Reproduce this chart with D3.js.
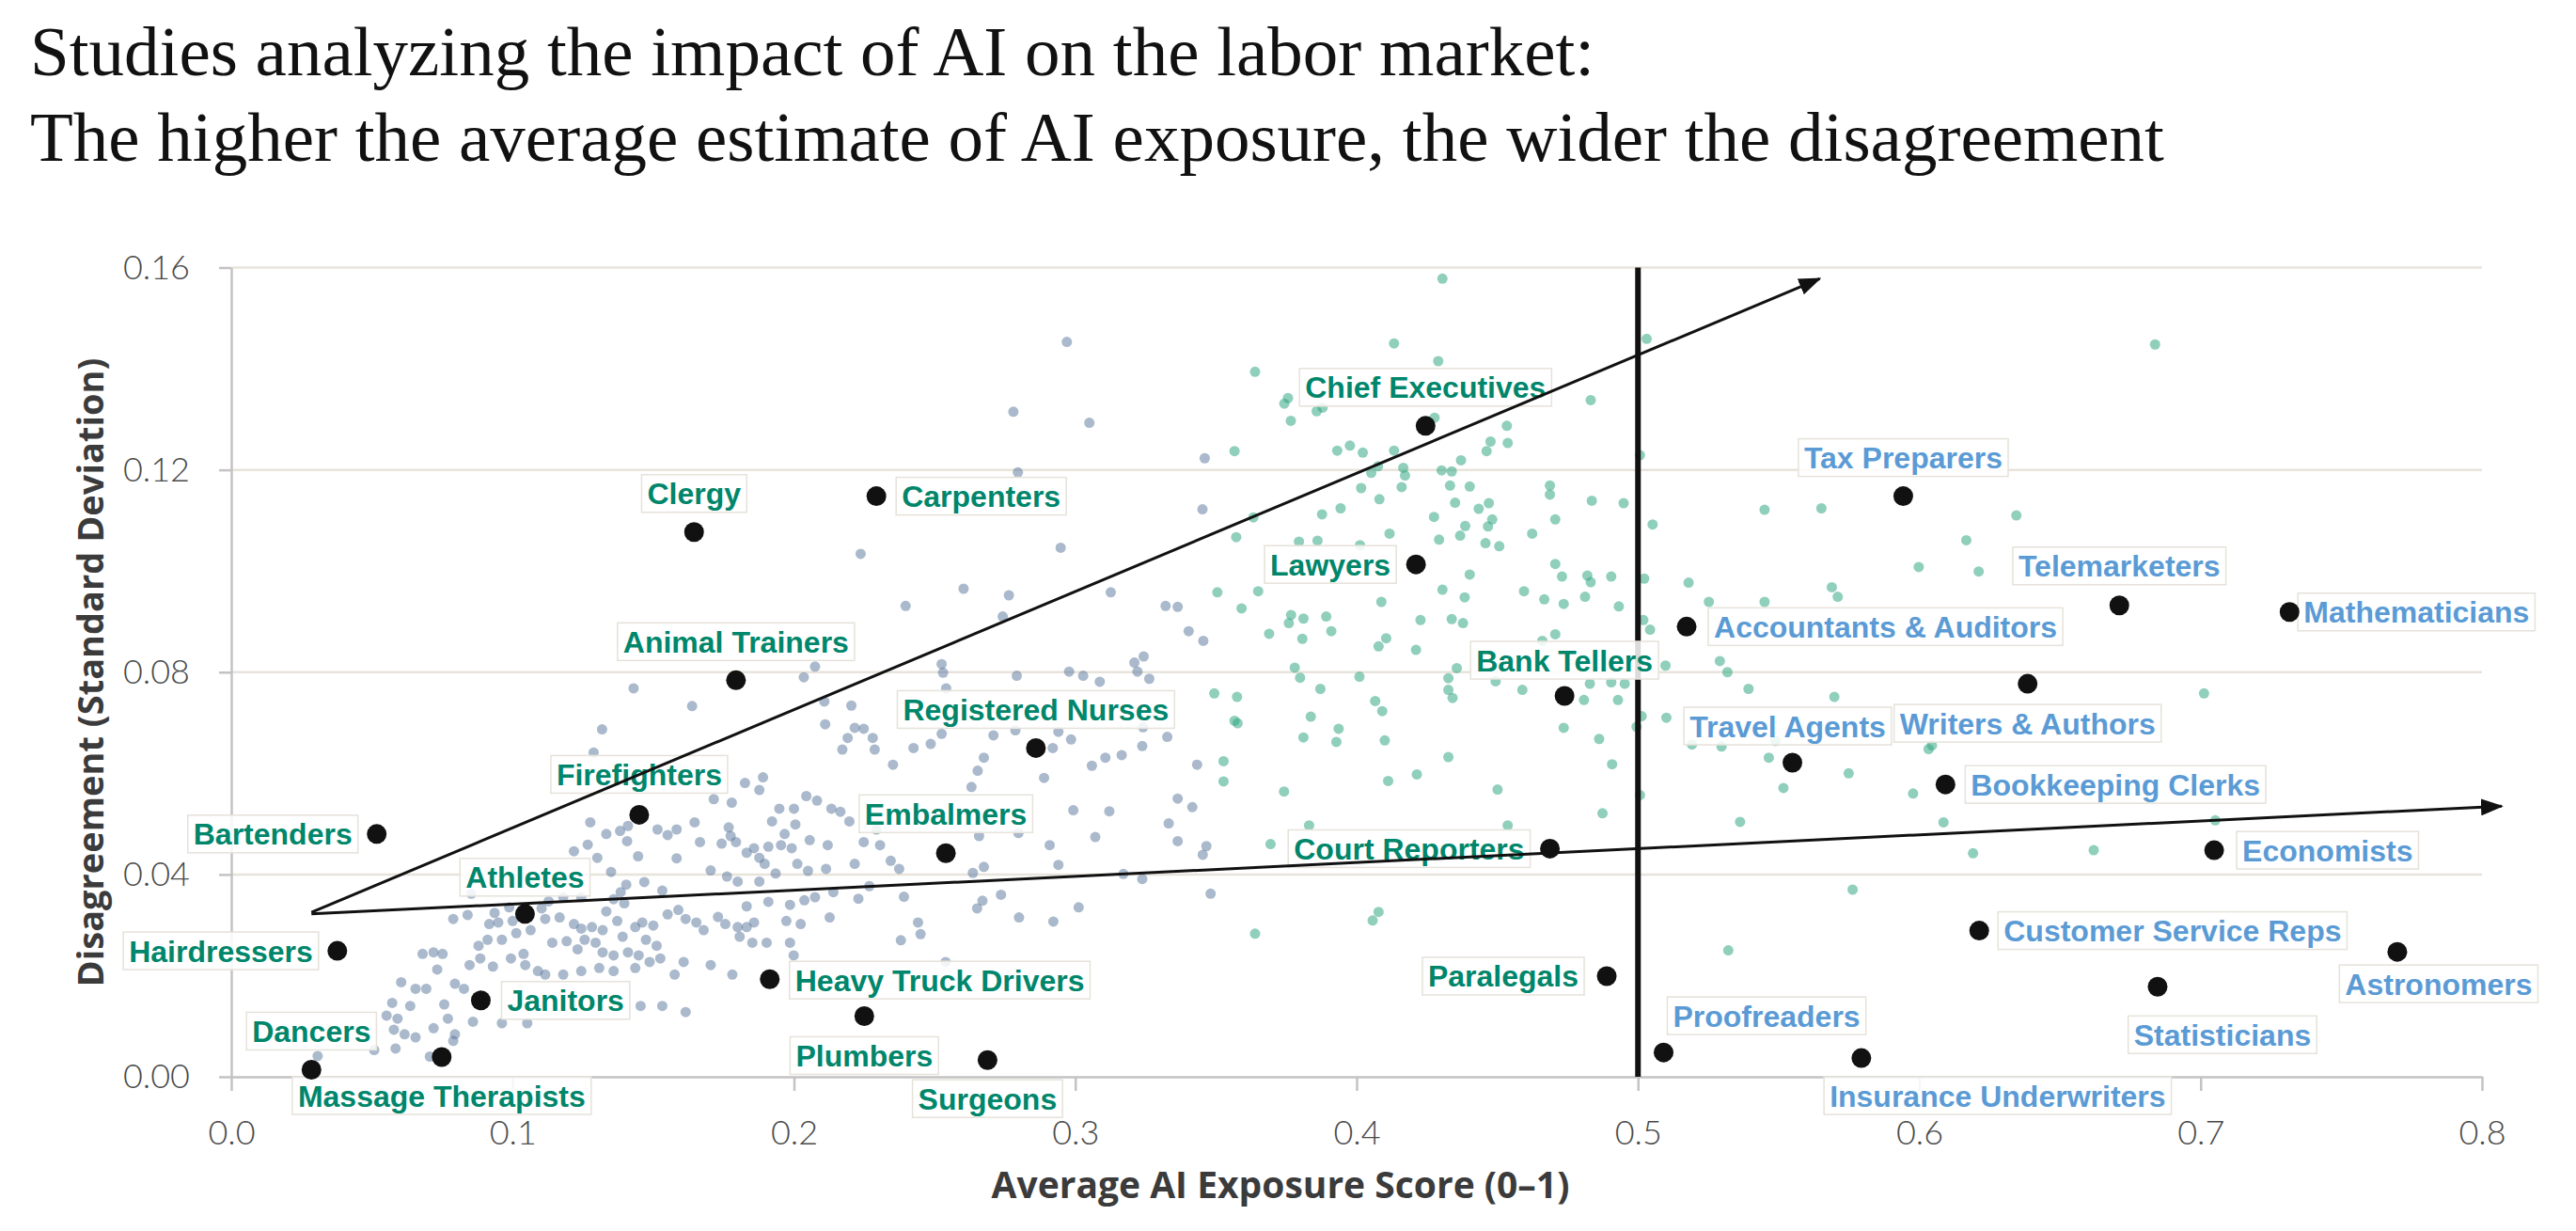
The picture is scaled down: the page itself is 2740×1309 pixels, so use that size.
<!DOCTYPE html>
<html>
<head>
<meta charset="utf-8">
<script src="https://cdn.jsdelivr.net/npm/d3@7"></script>
<style>
  html, body { margin: 0; padding: 0; background: #fff; }
  svg { display: block; }
</style>
</head>
<body>
<div id="chart"></div>
<script>
// ---- data ----
var titleLines = [
  "Studies analyzing the impact of AI on the labor market:",
  "The higher the average estimate of AI exposure, the wider the disagreement"
];
var xTitle = "Average AI Exposure Score (0\u20131)";
var yTitle = "Disagreement (Standard Deviation)";
var xTicks = [0, 0.1, 0.2, 0.3, 0.4, 0.5, 0.6, 0.7, 0.8];
var yTicks = [0, 0.04, 0.08, 0.12, 0.16];
var exposureCutoff = 0.5;

// occupations scored low (grey-blue cloud)
var lowExposureDots = [
  [0.143,0.0768],[0.1638,0.0733],[0.2035,0.079],[0.2075,0.0811],[0.1318,0.0687],[0.2108,0.0742],[0.2204,0.0734],[0.2111,0.0697],
  [0.2191,0.067],[0.2216,0.069],[0.2248,0.0688],[0.228,0.067],[0.2172,0.0647],[0.2287,0.0647],[0.1288,0.0641],
  [0.1826,0.0581],[0.189,0.0592],[0.1877,0.0567],[0.1715,0.0549],[0.1779,0.0542],[0.2044,0.0555],[0.2082,0.0546],[0.1948,0.053],
  [0.2,0.053],[0.2133,0.053],[0.2165,0.0524],[0.1922,0.0505],[0.2005,0.0499],[0.2197,0.0505],[0.2293,0.0489],[0.1276,0.0503],
  [0.1333,0.048],[0.1382,0.0486],[0.141,0.0496],[0.1515,0.0489],[0.1551,0.0478],[0.1583,0.0489],[0.1647,0.0503],[0.1768,0.0493],
  [0.1775,0.0476],[0.1794,0.0464],[0.1743,0.0461],[0.1666,0.0464],[0.1267,0.0459],[0.1407,0.0466],[0.1967,0.048],[0.1954,0.0458],
  [0.1909,0.0455],[0.1858,0.0452],[0.1832,0.0443],[0.1877,0.0433],[0.1896,0.0421],[0.1992,0.0452],[0.2056,0.0468],[0.212,0.0458],
  [0.2248,0.0464],[0.2306,0.0458],[0.1218,0.0446],[0.1301,0.0433],[0.135,0.0405],[0.1446,0.0436],[0.1583,0.0432],[0.2012,0.0421],
  [0.205,0.0407],[0.2114,0.0411],[0.2216,0.0421],[0.1704,0.0408],[0.1762,0.0396],[0.18,0.0386],[0.1877,0.0386],[0.1935,0.0402],
  [0.2344,0.0427],
  [0.1404,0.038],[0.1468,0.0385],[0.1384,0.0365],[0.1359,0.0351],[0.1397,0.0343],[0.1532,0.0368],[0.1333,0.0327],[0.1244,0.0355],
  [0.118,0.0355],[0.1128,0.0347],[0.1103,0.0333],[0.0988,0.0335],[0.0936,0.0324],[0.0917,0.0302],[0.0853,0.0362],[0.084,0.032],
  [0.0789,0.0312],[0.0949,0.0305],[0.1,0.0308],[0.1116,0.0312],[0.1167,0.0315],[0.1218,0.0302],[0.1244,0.0293],[0.1282,0.0296],
  [0.132,0.029],[0.1372,0.0308],[0.1391,0.0277],[0.1436,0.0296],[0.1461,0.0305],[0.15,0.0299],[0.1551,0.0321],[0.1589,0.033],
  [0.1615,0.0312],[0.1653,0.0305],[0.1679,0.029],[0.173,0.0316],[0.1756,0.0302],[0.18,0.0296],[0.1832,0.0296],[0.1858,0.0305],
  [0.1832,0.0337],[0.1909,0.0346],[0.1986,0.034],[0.2037,0.0349],[0.2075,0.0355],[0.214,0.0365],[0.2229,0.0352],[0.2268,0.0377],
  [0.1973,0.0308],[0.2024,0.0302],[0.2127,0.0315],
  [0.1064,0.029],[0.1013,0.0284],[0.0962,0.0271],[0.0911,0.0271],[0.0879,0.0259],[0.0885,0.0234],[0.0847,0.0221],[0.093,0.0218],
  [0.0994,0.0234],[0.1039,0.0243],[0.1045,0.0221],[0.109,0.0209],[0.1141,0.0265],[0.1192,0.0268],[0.1231,0.0252],[0.1256,0.0271],
  [0.1295,0.0265],[0.132,0.0246],[0.1359,0.024],[0.141,0.0246],[0.1448,0.024],[0.1474,0.0271],[0.1512,0.0259],[0.1487,0.0227],
  [0.1525,0.0234],[0.1576,0.0202],[0.1608,0.0227],[0.1704,0.0221],[0.1781,0.0202],[0.1807,0.0277],[0.1852,0.0265],[0.1903,0.0265],
  [0.1986,0.0265],[0.1999,0.024],[0.1116,0.0202],[0.118,0.0202],[0.1244,0.0209],[0.1308,0.0215],[0.1359,0.0209],[0.1436,0.0215],
  [0.068,0.0243],[0.0719,0.0246],[0.0751,0.0243],[0.0732,0.0212],[0.0604,0.0187],[0.0655,0.0174],[0.0693,0.0174],[0.0572,0.0146],
  [0.0636,0.014],[0.0757,0.0143],[0.0591,0.0115],[0.0552,0.0121],[0.0578,0.0093],[0.0616,0.0084],[0.0655,0.0078],[0.0719,0.0096],
  [0.077,0.0115],[0.0795,0.0084],[0.0859,0.0109],[0.0962,0.0106],[0.1052,0.0106],[0.0795,0.0184],[0.0827,0.0174],[0.0584,0.0056],
  [0.0508,0.0053],[0.0706,0.004],[0.0789,0.0071],[0.1455,0.014],[0.1532,0.014],[0.1615,0.0128],[0.0307,0.0041],
  [0.3452,0.1122],[0.2237,0.1034],[0.2948,0.1046],[0.2603,0.0965],[0.2397,0.0931],[0.2764,0.0952],[0.3126,0.0958],[0.3321,0.0931],
  [0.3364,0.0929],[0.2742,0.091],[0.3403,0.0881],[0.3455,0.0862],
  [0.2525,0.0816],[0.253,0.0799],[0.2792,0.0793],[0.2978,0.0801],[0.3028,0.0793],[0.3087,0.0781],[0.321,0.0819],[0.3243,0.0831],
  [0.3221,0.0801],[0.3263,0.0787],[0.2541,0.0768],
  [0.2486,0.0658],[0.2525,0.0678],[0.2425,0.065],[0.2709,0.0675],[0.2787,0.0685],[0.294,0.0682],[0.2985,0.0667],[0.292,0.065],
  [0.3238,0.0654],[0.3327,0.0672],[0.3241,0.0691],
  [0.2352,0.0617],[0.2675,0.0631],[0.2653,0.0605],[0.2631,0.0573],[0.2889,0.0591],[0.3059,0.0615],[0.3107,0.0631],[0.3165,0.0636],
  [0.3433,0.0617],
  [0.2993,0.0527],[0.3121,0.0525],[0.3364,0.055],[0.3416,0.0533],[0.3332,0.0501],[0.3071,0.0474],[0.2909,0.0458],[0.3364,0.0466],
  [0.3466,0.0456],[0.3453,0.0439],[0.2658,0.0476],[0.2798,0.0482],
  [0.294,0.0419],[0.2675,0.0415],[0.2636,0.0403],[0.2374,0.0411],[0.3171,0.0401],[0.3238,0.0391],
  [0.2391,0.0356],[0.267,0.0348],[0.2651,0.0333],[0.2736,0.036],[0.3012,0.0335],[0.3481,0.0362],[0.28,0.0315],[0.2922,0.0307],
  [0.2441,0.0305],[0.245,0.0282],[0.238,0.027],[0.2539,0.0227],
  [0.297,0.1453],[0.278,0.1315],[0.305,0.1293],[0.346,0.1223],[0.2796,0.1195]
];

// occupations scored high (green cloud)
var highExposureDots = [
  [0.3572,0.1067],[0.3633,0.1106],[0.3505,0.0958],[0.3591,0.0926],[0.365,0.096],[0.3767,0.0913],[0.3759,0.0897],[0.3689,0.0876],
  [0.378,0.0809],[0.3494,0.0758],[0.3575,0.0751],[0.3566,0.0704],[0.3577,0.0699],[0.3527,0.0624],[0.3527,0.0584],[0.3742,0.0564],
  [0.3694,0.046],[0.3639,0.0283],[0.3795,0.1058],
  [0.3639,0.1394],[0.3756,0.1342],[0.3743,0.1331],[0.3766,0.1297],[0.3566,0.1237],
  [0.4305,0.1578],[0.4133,0.145],[0.429,0.1415],[0.5031,0.1459],[0.4832,0.1338],[0.3858,0.1316],[0.3879,0.1323],[0.4277,0.1303],
  [0.4534,0.1287],[0.4476,0.1256],[0.4537,0.1253],[0.4462,0.1237],[0.3931,0.1238],[0.3976,0.1248],[0.4022,0.1234],[0.4133,0.1238],
  [0.5007,0.1229],[0.4371,0.1219],[0.4076,0.1207],[0.4052,0.1194],[0.4166,0.1204],[0.4172,0.1189],[0.4302,0.1199],[0.4338,0.1197],
  [0.4016,0.1164],[0.416,0.1166],[0.4332,0.1169],[0.4402,0.1167],[0.4687,0.1169],[0.4687,0.1151],[0.4081,0.1142],[0.4836,0.1139],
  [0.4949,0.1134],[0.435,0.1135],[0.4434,0.1123],[0.447,0.1134],[0.3943,0.1124],[0.3877,0.1112],[0.4275,0.1107],[0.4482,0.1102],
  [0.4467,0.1088],[0.4386,0.1089],[0.4706,0.1102],[0.5052,0.1092],[0.545,0.1121],[0.5652,0.1124],[0.4624,0.1074],[0.4117,0.1074],
  [0.4368,0.107],[0.4293,0.1062],[0.4458,0.1055],[0.4507,0.1049],[0.3861,0.106],[0.4012,0.1051],[0.4706,0.1014],[0.4402,0.0993],
  [0.473,0.0989],[0.482,0.0991],[0.4832,0.0978],[0.4905,0.0989],[0.5022,0.0985],[0.518,0.0977],[0.4305,0.0963],[0.4595,0.096],
  [0.4384,0.0948],[0.4812,0.0949],[0.4667,0.0944],[0.4736,0.0935],[0.4932,0.093],[0.5252,0.0939],[0.545,0.0939],[0.4088,0.0939],
  [0.3892,0.091],[0.3811,0.0906],[0.391,0.0881],[0.3807,0.0866],[0.4227,0.0903],[0.4338,0.0905],[0.4378,0.0897],[0.5019,0.0903],
  [0.5043,0.0884],[0.4706,0.0875],[0.466,0.0862],[0.4105,0.0867],[0.4078,0.0851],[0.4211,0.0844],[0.5291,0.0822],[0.5318,0.08],
  [0.5098,0.0813],[0.4356,0.0808],[0.401,0.0791],
  [0.3799,0.0789],[0.3871,0.0767],[0.4326,0.0788],[0.4326,0.0765],[0.4341,0.0749],[0.4494,0.0782],[0.4589,0.0765],[0.4829,0.0777],
  [0.4905,0.078],[0.4953,0.0777],[0.4808,0.0745],[0.4929,0.0745],[0.4066,0.0743],[0.4091,0.0723],[0.3837,0.0712],[0.3811,0.0671],
  [0.3936,0.0688],[0.3928,0.0662],[0.41,0.0665],[0.4736,0.069],[0.4862,0.0668],[0.4326,0.0632],[0.4214,0.0598],[0.4112,0.0585],
  [0.4908,0.0618],[0.4501,0.0568],[0.4874,0.0521],[0.5007,0.0557],[0.5013,0.0713],[0.4995,0.0692],[0.5101,0.071],[0.5192,0.0657],
  [0.5297,0.0653],[0.5489,0.0664],[0.5393,0.0767],[0.5465,0.0631],[0.5517,0.0571],[0.5363,0.0504],[0.3831,0.0497],[0.4537,0.0497],
  [0.4078,0.0326],[0.4057,0.0309],[0.5321,0.025],
  [0.6838,0.1448],[0.6345,0.111],[0.6167,0.1061],[0.5998,0.1008],[0.6211,0.0999],[0.5689,0.0968],[0.571,0.0949],[0.5698,0.0751],
  [0.7012,0.0758],[0.6033,0.0648],[0.6045,0.0655],[0.5749,0.06],[0.5978,0.056],[0.6086,0.0503],[0.7052,0.0507],[0.6191,0.0442],
  [0.662,0.0448],[0.5763,0.037]
];

// highlighted occupations
var occupationNames = [
  "Bartenders", "Firefighters", "Athletes", "Hairdressers", "Janitors", "Heavy Truck Drivers", "Plumbers",
  "Dancers", "Massage Therapists", "Surgeons", "Clergy", "Carpenters", "Animal Trainers", "Registered Nurses",
  "Embalmers", "Chief Executives", "Lawyers", "Bank Tellers", "Court Reporters", "Paralegals", "Proofreaders",
  "Accountants & Auditors", "Travel Agents", "Tax Preparers", "Telemarketers", "Mathematicians",
  "Writers & Authors", "Bookkeeping Clerks", "Economists", "Customer Service Reps", "Astronomers",
  "Statisticians", "Insurance Underwriters"
];
var occupationExposure = [
  0.0517, 0.145, 0.1044, 0.0377, 0.0887, 0.1914, 0.225,
  0.0285, 0.0748, 0.2688, 0.1645, 0.2293, 0.1794, 0.286,
  0.254, 0.4245, 0.4211, 0.4739, 0.4687, 0.4889, 0.5091,
  0.5173, 0.5549, 0.5943, 0.6711, 0.7316,
  0.6385, 0.6093, 0.7048, 0.6213, 0.7699,
  0.6847, 0.5794
];
var occupationDisagreement = [
  0.048, 0.0518, 0.0322, 0.0249, 0.0151, 0.0193, 0.012,
  0.0014, 0.0039, 0.0033, 0.1077, 0.1148, 0.0784, 0.065,
  0.0442, 0.1287, 0.1013, 0.0753, 0.0451, 0.0199, 0.0048,
  0.089, 0.0621, 0.1148, 0.0932, 0.0919,
  0.0777, 0.0578, 0.0448, 0.0289, 0.0247,
  0.0178, 0.0037
];

// two guide arrows, [start, end] in data units
var trendArrows = [
  [[0.0285, 0.0325], [0.5646, 0.1578]],
  [[0.0285, 0.0322], [0.807, 0.0535]]
];

// ---- layout ----
var W = 2740, H = 1309;
var x = d3.scaleLinear().domain([0, 0.8]).range([246, 2640]);
var y = d3.scaleLinear().domain([0, 0.16]).range([1145, 284.5]);

// label placement: [text-anchor, dx, dy] in px from the dot
var labelLayout = {
  "Bartenders": ["end", -20, 0], "Hairdressers": ["end", -20, 0], "Dancers": ["middle", 0, -41],
  "Massage Therapists": ["middle", 0, 41], "Athletes": ["middle", 0, -39], "Firefighters": ["middle", 0, -43],
  "Janitors": ["start", 22, 0], "Heavy Truck Drivers": ["start", 21, 1], "Plumbers": ["middle", 0, 42],
  "Surgeons": ["middle", 0, 41], "Embalmers": ["middle", 0, -42], "Registered Nurses": ["middle", 0, -41],
  "Carpenters": ["start", 21, 0], "Clergy": ["middle", 0, -41], "Animal Trainers": ["middle", 0, -41],
  "Chief Executives": ["middle", 0, -41], "Lawyers": ["end", -21, 0], "Bank Tellers": ["middle", 0, -38],
  "Accountants & Auditors": ["start", 23, 0], "Court Reporters": ["end", -21, 0], "Paralegals": ["end", -24, 0],
  "Proofreaders": ["start", 4, -39], "Travel Agents": ["middle", -5, -39], "Tax Preparers": ["middle", 0, -41],
  "Telemarketers": ["middle", 0, -42], "Mathematicians": ["start", 9, 0], "Writers & Authors": ["middle", 0, 42],
  "Bookkeeping Clerks": ["start", 21, 0], "Economists": ["start", 24, 0], "Customer Service Reps": ["start", 20, 0],
  "Astronomers": ["middle", 44, 34], "Statisticians": ["middle", 69, 51], "Insurance Underwriters": ["middle", 145, 40]
};

var svg = d3.select("#chart").append("svg")
  .attr("width", W)
  .attr("height", H)
  .style("background", "#fff");

// title
svg.append("g").selectAll("text")
  .data(titleLines)
  .join("text")
  .attr("x", 32)
  .attr("y", function (d, i) { return 80 + i * 91; })
  .style("font-family", "'Liberation Serif', 'DejaVu Serif', serif")
  .style("font-size", "75px")
  .style("fill", "#111")
  .text(function (d) { return d; });

// gridlines
svg.append("g").selectAll("line")
  .data(yTicks.filter(function (d) { return d > 0; }))
  .join("line")
  .attr("x1", x(0)).attr("x2", x(0.8))
  .attr("y1", function (d) { return y(d); }).attr("y2", function (d) { return y(d); })
  .style("stroke", "#e8e3db")
  .style("stroke-width", 2.5);

// axes
var yAxis = svg.append("g")
  .attr("transform", "translate(" + x(0) + ",0)")
  .call(d3.axisLeft(y).tickValues(yTicks).tickFormat(d3.format(".2f")).tickSize(13).tickSizeOuter(0).tickPadding(31));
var xAxis = svg.append("g")
  .attr("transform", "translate(0," + y(0) + ")")
  .call(d3.axisBottom(x).tickValues(xTicks).tickFormat(d3.format(".1f")).tickSize(15).tickSizeOuter(0).tickPadding(31));

[yAxis, xAxis].forEach(function (ax) {
  ax.selectAll("path, line").style("stroke", "#c3c3c3").style("stroke-width", 2.5);
  ax.selectAll("text")
    .style("font-family", "Lato, 'Open Sans', sans-serif")
    .style("font-weight", 300)
    .style("font-size", "36px")
    .style("fill", "#4a4a4a");
});

// axis titles
svg.append("text")
  .attr("transform", "translate(97,715) rotate(-90)")
  .attr("text-anchor", "middle")
  .attr("dy", "0.35em")
  .style("font-family", "'Open Sans', sans-serif")
  .style("font-weight", 700)
  .style("font-size", "38px")
  .style("fill", "#3b3b3b")
  .text(yTitle);

svg.append("text")
  .attr("x", 1362)
  .attr("y", 1260)
  .attr("text-anchor", "middle")
  .attr("dy", "0.35em")
  .style("font-family", "'Open Sans', sans-serif")
  .style("font-weight", 700)
  .style("font-size", "39px")
  .style("fill", "#3b3b3b")
  .text(xTitle);

// background clouds
svg.append("g").selectAll("circle")
  .data(lowExposureDots)
  .join("circle")
  .attr("cx", function (d) { return x(d[0]); })
  .attr("cy", function (d) { return y(d[1]); })
  .attr("r", 5.5)
  .style("fill", "#56739a")
  .style("fill-opacity", 0.5);

svg.append("g").selectAll("circle")
  .data(highExposureDots)
  .join("circle")
  .attr("cx", function (d) { return x(d[0]); })
  .attr("cy", function (d) { return y(d[1]); })
  .attr("r", 5.5)
  .style("fill", "#33a783")
  .style("fill-opacity", 0.55);

// cutoff line
svg.append("line")
  .attr("x1", x(exposureCutoff)).attr("x2", x(exposureCutoff))
  .attr("y1", y(0.16)).attr("y2", y(0))
  .style("stroke", "#111")
  .style("stroke-width", 6);

// labels for highlighted occupations
var pad = 6;
var labels = svg.append("g").selectAll("g")
  .data(occupationNames)
  .join("g");

labels.each(function (name, i) {
  var spot = labelLayout[name];
  var g = d3.select(this);
  var ax = x(occupationExposure[i]) + spot[1];
  var ay = y(occupationDisagreement[i]) + spot[2];
  var tx = spot[0] === "start" ? ax + pad : spot[0] === "end" ? ax - pad : ax;
  var t = g.append("text")
    .attr("x", tx)
    .attr("y", ay)
    .attr("dy", "0.36em")
    .attr("text-anchor", spot[0])
    .style("font-family", "'Liberation Sans', Arial, sans-serif")
    .style("font-weight", 700)
    .style("font-size", "32px")
    .style("fill", occupationExposure[i] > exposureCutoff ? "#5b9bd5" : "#00866b")
    .text(name);
  var b = t.node().getBBox();
  g.insert("rect", "text")
    .attr("x", b.x - pad)
    .attr("y", ay - 20)
    .attr("width", b.width + pad * 2)
    .attr("height", 40)
    .style("fill", "#fff")
    .style("fill-opacity", 0.85)
    .style("stroke", "#e6e2da")
    .style("stroke-width", 1.5);
});

// highlighted dots
svg.append("g").selectAll("circle")
  .data(occupationNames)
  .join("circle")
  .attr("cx", function (d, i) { return x(occupationExposure[i]); })
  .attr("cy", function (d, i) { return y(occupationDisagreement[i]); })
  .attr("r", 10.5)
  .style("fill", "#111");

// arrows
svg.append("defs").append("marker")
  .attr("id", "head")
  .attr("viewBox", "0 0 24 18")
  .attr("refX", 22)
  .attr("refY", 9)
  .attr("markerWidth", 24)
  .attr("markerHeight", 18)
  .attr("markerUnits", "userSpaceOnUse")
  .attr("orient", "auto")
  .append("path")
  .attr("d", "M0,0 L24,9 L0,18 Z")
  .style("fill", "#111");

svg.append("g").selectAll("line")
  .data(trendArrows)
  .join("line")
  .attr("x1", function (d) { return x(d[0][0]); })
  .attr("y1", function (d) { return y(d[0][1]); })
  .attr("x2", function (d) { return x(d[1][0]); })
  .attr("y2", function (d) { return y(d[1][1]); })
  .style("stroke", "#111")
  .style("stroke-width", 3)
  .attr("marker-end", "url(#head)");
</script>
</body>
</html>
